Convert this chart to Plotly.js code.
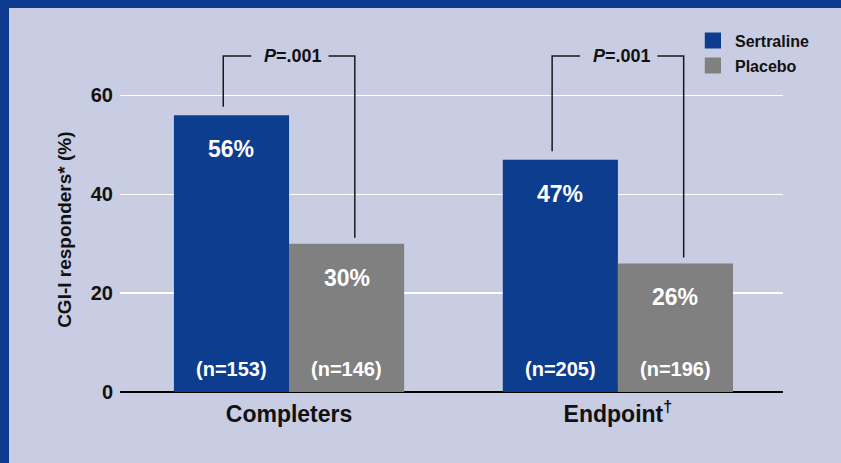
<!DOCTYPE html>
<html><head><meta charset="utf-8">
<script src="https://cdn.plot.ly/plotly-3.0.1.min.js"></script>
<style>
html,body{margin:0;padding:0;background:#0c3b8f;width:841px;height:463px;overflow:hidden;}
#chart{position:absolute;left:9px;top:8px;width:832px;height:455px;}
</style></head><body><div id="chart"></div>
<script>
const categories = ['Completers', 'Endpoint<sup>†</sup>'];
const seriesNames = ['Sertraline', 'Placebo'];
const sertraline = [56, 47];
const placebo = [30, 26];
const sertralineN = [153, 205];
const placeboN = [146, 196];
const pValues = ['.001', '.001'];
const yTickVals = [0, 20, 40, 60];
const yTitle = 'CGI-I responders* (%)';

const BLUE = '#0d3d8f', GRAY = '#808080', BG = '#c8cde3';
const FONT = 'Liberation Sans, Arial, sans-serif';
const xs = categories.map((c, i) => i);
const HALF = 0.175;

const traces = [
  {type:'bar', name:seriesNames[0], x:xs, y:sertraline, marker:{color:BLUE}, showlegend:false, hoverinfo:'none'},
  {type:'bar', name:seriesNames[1], x:xs, y:placebo, marker:{color:GRAY}, showlegend:false, hoverinfo:'none'}
];

const annotations = [];
const shapes = [];
const series = [[sertraline, sertralineN, -HALF], [placebo, placeboN, HALF]];
series.forEach(([vals, ns, off]) => {
  vals.forEach((v, i) => {
    annotations.push({x: i + off, y: v, xref:'x', yref:'y', text: '<b>' + v + '%</b>', showarrow:false,
      yanchor:'middle', yshift:-34, font:{family:FONT, size:23, color:'#ffffff'}});
    annotations.push({x: i + off, y: 0, xref:'x', yref:'y', text: '<b>(n=' + ns[i] + ')</b>', showarrow:false,
      yanchor:'middle', yshift:23, font:{family:FONT, size:20, color:'#ffffff'}});
  });
});

// significance brackets
const TOP = 68;
categories.forEach((c, i) => {
  const l = i - 0.2, r = i + 0.2;
  const ly = sertraline[i] + 1.7, ry = placebo[i] + 1.2;
  shapes.push({type:'path', xref:'x', yref:'y',
    path:`M${l},${ly} L${l},${TOP} L${i-0.115},${TOP}`, line:{color:'#1a1a1a', width:1.5}});
  shapes.push({type:'path', xref:'x', yref:'y',
    path:`M${i+0.12},${TOP} L${r},${TOP} L${r},${ry}`, line:{color:'#1a1a1a', width:1.5}});
  annotations.push({x: i + 0.012, y: TOP, xref:'x', yref:'y', text:'<b><i>P</i>=' + pValues[i] + '</b>',
    showarrow:false, yanchor:'middle', font:{family:FONT, size:18, color:'#111'}});
});

// y-axis title
annotations.push({xref:'paper', yref:'paper', x:-0.1026, y:0.47, text:'<b>' + yTitle + '</b>', textangle:-90,
  showarrow:false, font:{family:FONT, size:19, color:'#111'}});

// legend (manual)
const legendRows = [[seriesNames[0], BLUE, 1.039, 0.9928, 1.014], [seriesNames[1], GRAY, 0.9668, 0.9206, 0.94]];
legendRows.forEach(([name, col, y1, y0, yt]) => {
  shapes.push({type:'rect', xref:'paper', yref:'paper', x0:0.882, x1:0.9065, y0:y0, y1:y1, fillcolor:col, line:{width:0}});
  annotations.push({xref:'paper', yref:'paper', x:0.9246, y:yt, xanchor:'left', yanchor:'middle', text:'<b>' + name + '</b>',
    showarrow:false, font:{family:FONT, size:16, color:'#111'}});
});

const layout = {
  width:832, height:455,
  paper_bgcolor:BG, plot_bgcolor:BG,
  margin:{l:111, r:58, t:38, b:71},
  barmode:'group', bargap:0.3, bargroupgap:0,
  showlegend:false,
  font:{family:FONT, color:'#111'},
  xaxis:{range:[-0.514, 1.502], tickvals:xs, ticktext:categories.map(c => '<b>' + c + '</b>'),
    showgrid:false, zeroline:false, showline:false, ticks:'', tickfont:{family:FONT, size:23, color:'#111'},
    ticklabelstandoff:6, fixedrange:true},
  yaxis:{range:[0, 70], tickvals:yTickVals, ticktext:yTickVals.map(v => '<b>' + v + '</b>'),
    showgrid:true, gridcolor:'#ffffff', gridwidth:1.5, zeroline:true, zerolinecolor:'#000000', zerolinewidth:2.5,
    showline:false, ticks:'', tickfont:{family:FONT, size:20, color:'#111'}, ticklabelstandoff:6, fixedrange:true},
  shapes:shapes, annotations:annotations
};

Plotly.newPlot('chart', traces, layout, {displayModeBar:false, staticPlot:true});
</script></body></html>
